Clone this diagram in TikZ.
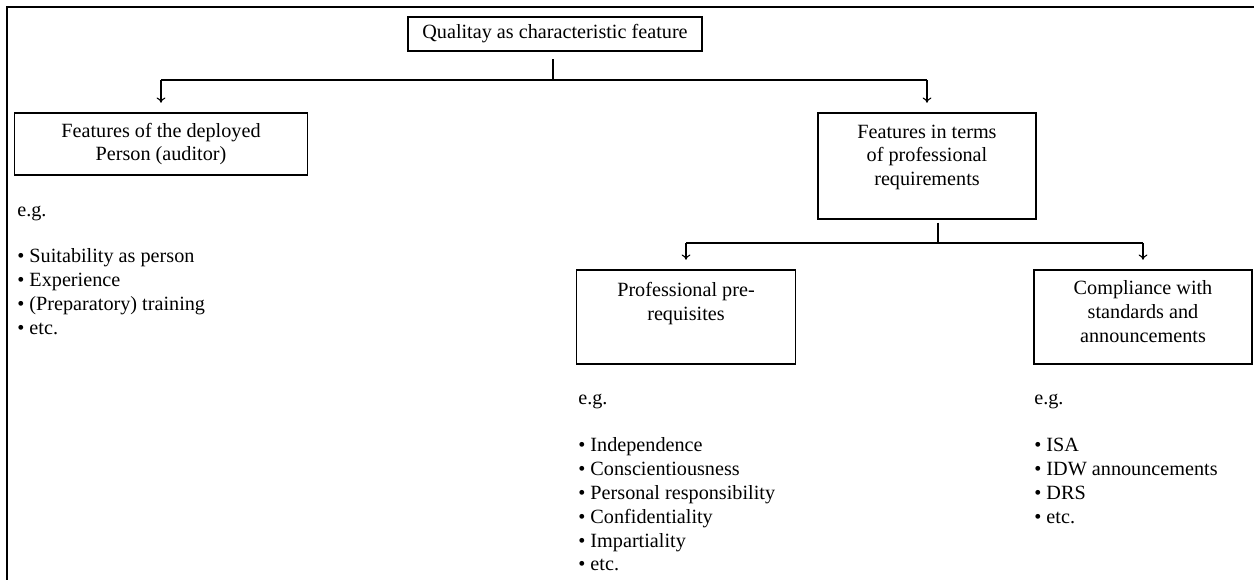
\documentclass[tikz,border=0pt]{standalone}
\usepackage{fontspec}
\setmainfont{Liberation Serif}
\usetikzlibrary{positioning,arrows.meta}

\begin{document}
\begin{tikzpicture}[x=0.02cm,y=-0.02cm,
  every node/.style={font=\fontsize{11.5}{13.6}\selectfont},
  featbox/.style={draw,line width=0.6pt,inner sep=0pt,align=center},
  joint/.style={draw,line width=1.1pt},
  down/.style={draw,line width=0.6pt,-{To[length=3pt,width=5pt]},shorten >=5.5pt},
  egtext/.style={anchor=north west,inner sep=0pt,align=left}]
\useasboundingbox (0,0) rectangle (1254,580);
% frame (cut off right and bottom)
\draw[line width=1.1pt] (7,580) -- (7,7) -- (1254,7);

\node[featbox,minimum width=294*0.02cm,minimum height=34*0.02cm] (qual) at (555,34) {Qualitay as characteristic feature};
\node[featbox,minimum width=293*0.02cm,minimum height=62*0.02cm] (pers) at (161,144) {Features of the deployed\\Person (auditor)};
\node[featbox,minimum width=218*0.02cm,minimum height=106*0.02cm] (req) at (927,166) {Features in terms\\of professional\\requirements\\[-5.5pt] \strut};
\node[featbox,minimum width=219*0.02cm,minimum height=94*0.02cm] (prof) at (686,317) {Professional pre-\\requisites\\ \strut};
\node[featbox,minimum width=218*0.02cm,minimum height=94*0.02cm] (comp) at (1143,317) {Compliance with\\standards and\\announcements\\[-11.5pt] \strut};

\coordinate (j1) at (553,80);
\coordinate (j2) at (938,243);

% first level
\path[joint] ([yshift=-4.5pt]qual.south -| j1) -- (j1);
\path[joint] (pers.north |- j1) -- (req.north |- j1);
\path[down] (pers.north |- j1) -- (pers.north);
\path[down] (req.north |- j1) -- (req.north);

% second level
\path[joint] ([yshift=-1.7pt]req.south -| j2) -- (j2);
\path[joint] (prof.north |- j2) -- (comp.north |- j2);
\path[down] (prof.north |- j2) -- (prof.north);
\path[down] (comp.north |- j2) -- (comp.north);

% examples
\node[egtext] (eg1) at (17,206) {e.g.\\[12.5pt]\textbullet{} Suitability as person\\\textbullet{} Experience\\\textbullet{} (Preparatory) training\\\textbullet{} etc.};
\node[egtext] (eg2) at (578,394) {e.g.\\[13pt]\textbullet{} Independence\\\textbullet{} Conscientiousness\\\textbullet{} Personal responsibility\\\textbullet{} Confidentiality\\\textbullet{} Impartiality\\\textbullet{} etc.};
\node[egtext] (eg3) at (1034,394) {e.g.\\[13pt]\textbullet{} ISA\\\textbullet{} IDW announcements\\\textbullet{} DRS\\\textbullet{} etc.};
\end{tikzpicture}
\end{document}
